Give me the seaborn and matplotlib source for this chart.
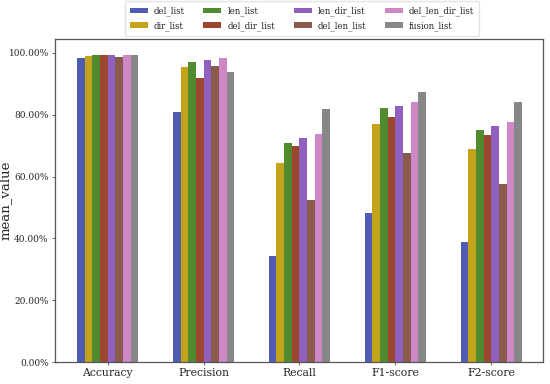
import matplotlib
matplotlib.use("Agg")
import matplotlib.pyplot as plt
import seaborn as sns
import pandas as pd
from matplotlib.ticker import PercentFormatter

metrics = ["Accuracy", "Precision", "Recall", "F1-score", "F2-score"]
series = ["del_list", "dir_list", "len_list", "del_dir_list",
          "len_dir_list", "del_len_list", "del_len_dir_list", "fusion_list"]

del_list = [0.982, 0.810, 0.343, 0.481, 0.388]
dir_list = [0.990, 0.954, 0.645, 0.769, 0.689]
len_list = [0.993, 0.972, 0.708, 0.821, 0.751]
del_dir_list = [0.993, 0.918, 0.699, 0.794, 0.734]
len_dir_list = [0.992, 0.977, 0.724, 0.829, 0.762]
del_len_list = [0.988, 0.959, 0.524, 0.675, 0.576]
del_len_dir_list = [0.992, 0.983, 0.738, 0.841, 0.777]
fusion_list = [0.993, 0.939, 0.818, 0.875, 0.840]

values = [del_list, dir_list, len_list, del_dir_list,
          len_dir_list, del_len_list, del_len_dir_list, fusion_list]

colors = ["#4f5cb2", "#c4a21a", "#4f8c30", "#9c4630",
          "#9060bf", "#8a5a4c", "#cf88c6", "#878787"]

rows = []
for name, vals in zip(series, values):
    for m, v in zip(metrics, vals):
        rows.append({"metric": m, "series": name, "value": v})
df = pd.DataFrame(rows)

sns.set_style("white")
plt.rcParams["font.family"] = ["DejaVu Serif"]

fig = plt.figure(figsize=(5.5, 3.84), dpi=100)
ax = fig.add_axes([55/550, 1-362/384, (543-55)/550, (362-39)/384])

sns.barplot(data=df, x="metric", y="value", hue="series", order=metrics,
            hue_order=series, palette=colors, width=0.64, gap=0,
            saturation=1, linewidth=0, ax=ax, legend=True)

ax.set_xlim(-0.55, 4.54)
ax.set_ylim(0, 1.045)
ax.set_yticks([0, 0.2, 0.4, 0.6, 0.8, 1.0])
ax.yaxis.set_major_formatter(PercentFormatter(xmax=1, decimals=2))
ax.tick_params(axis="y", labelsize=6.5, length=2.5, width=0.6, color="#444444",
               left=True, pad=2)
ax.tick_params(axis="x", labelsize=7.8, length=2, width=0.6, color="#444444",
               bottom=True, pad=2)
ax.set_xlabel("")
ax.set_ylabel("mean_value", fontsize=9.5)
ax.yaxis.set_label_coords(-0.088, 0.5)
for s in ax.spines.values():
    s.set_color("#555555")
    s.set_linewidth(0.9)

handles, labels = ax.get_legend_handles_labels()
ax.get_legend().remove()
fig.legend(handles, labels, ncol=4, loc="upper center",
           bbox_to_anchor=(302/550, 1.008), fontsize=6.2, frameon=True,
           handlelength=2.1, handleheight=0.6, handletextpad=0.7,
           columnspacing=2.15, labelspacing=0.55, borderpad=0.6,
           edgecolor="#dddddd", fancybox=True)

fig.savefig("out.png", dpi=100)
